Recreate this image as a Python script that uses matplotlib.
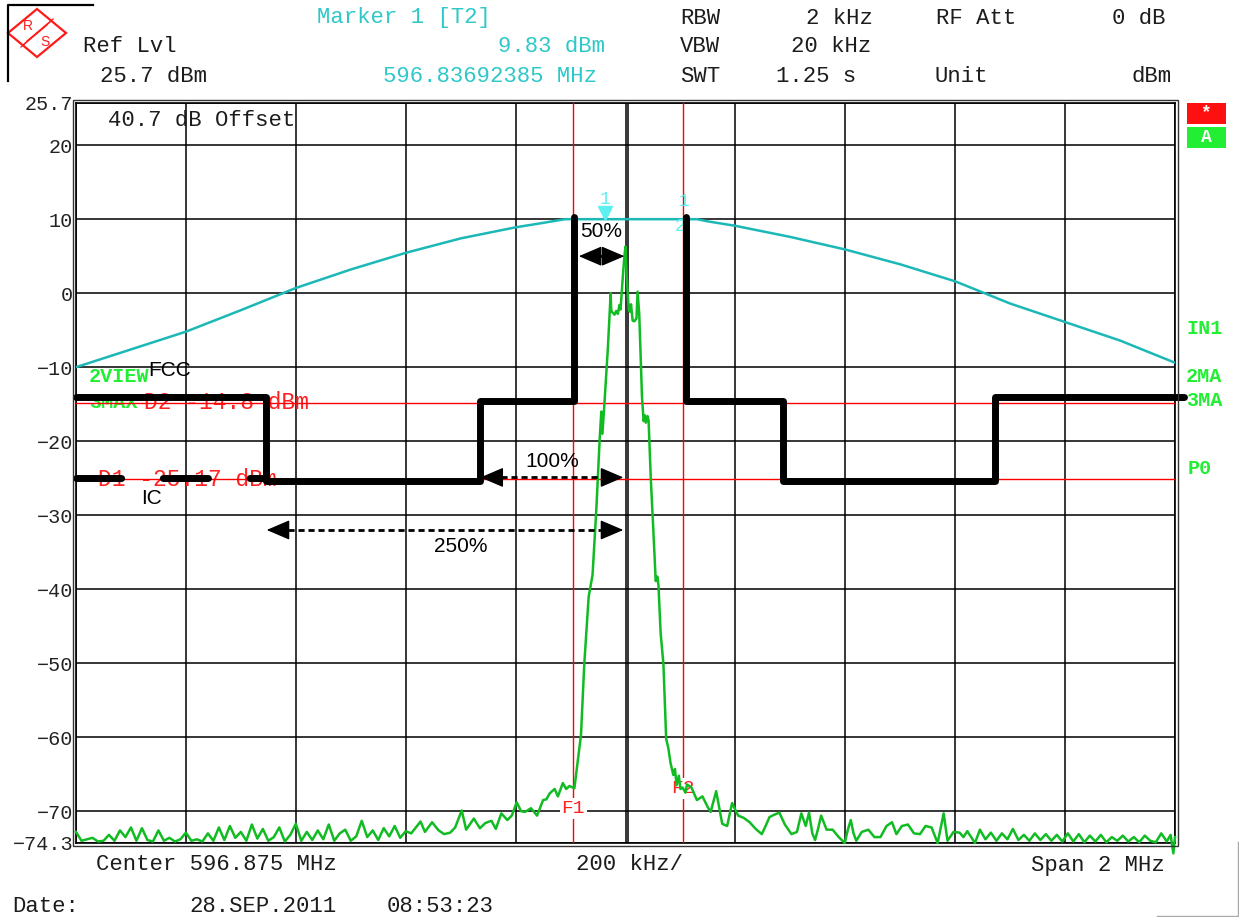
import matplotlib
matplotlib.use('Agg')
import matplotlib.pyplot as plt
from matplotlib.patches import Polygon, Rectangle
from matplotlib.lines import Line2D

# ---------------- data (kHz offset from centre 596.875 MHz, dBm) ----------------
y_ticks = [25.7, 20, 10, 0, -10, -20, -30, -40, -50, -60, -70, -74.3]
y_ticklabels = ['25.7', '20', '10', '0', '−10', '−20', '−30', '−40', '−50', '−60', '−70', '−74.3']
x_ticks = [-1000, -800, -600, -400, -200, 0, 200, 400, 600, 800, 1000]

# cyan trace (T2, max hold of filter shape)
cyan_khz = [-1000, -900, -800, -700, -600, -500, -400, -300, -200, -150, -110,
            130, 150, 200, 300, 400, 500, 600, 700, 800, 900, 1000]
cyan_dbm = [-10.0, -7.6, -5.2, -2.3, 0.7, 3.2, 5.45, 7.4, 8.9, 9.5, 10.0,
            10.0, 9.7, 9.1, 7.6, 5.9, 3.9, 1.6, -1.4, -3.9, -6.4, -9.4]

# green trace: left noise floor, signal, right noise floor  (kHz, dBm)
noise_left = [(-1000, -72.8), (-990, -74.0), (-980, -73.8), (-970, -73.6), (-960, -74.1), (-950, -74.0),
              (-940, -73.2), (-930, -74.0), (-920, -72.6), (-910, -73.5), (-900, -72.2), (-890, -74.0),
              (-880, -72.3), (-870, -73.9), (-860, -74.1), (-850, -72.6), (-840, -74.0), (-830, -73.6),
              (-820, -74.1), (-810, -73.8), (-800, -72.9), (-790, -74.0), (-780, -73.8), (-770, -74.1),
              (-760, -73.0), (-750, -74.0), (-740, -72.2), (-730, -73.9), (-720, -72.0), (-710, -73.6),
              (-700, -72.8), (-690, -74.0), (-680, -71.8), (-670, -73.7), (-660, -72.4), (-650, -74.0),
              (-640, -73.5), (-630, -72.2), (-620, -74.1), (-610, -73.2), (-600, -71.7), (-590, -74.0),
              (-580, -72.8), (-570, -73.9), (-560, -72.6), (-550, -73.8), (-540, -71.8), (-530, -74.0),
              (-520, -73.0), (-510, -72.5), (-500, -74.0), (-490, -73.4), (-480, -71.3), (-470, -73.5),
              (-460, -72.6), (-450, -73.9), (-440, -72.3), (-430, -73.4), (-420, -72.0), (-410, -73.6),
              (-400, -72.7), (-390, -73.0), (-373, -71.4), (-365, -72.8), (-352, -71.5), (-340, -72.6),
              (-330, -73.1), (-319, -72.9), (-310, -72.2), (-298, -69.9), (-290, -72.5), (-276, -71.0),
              (-265, -72.3), (-255, -71.6), (-244, -71.3), (-236, -72.4), (-226, -70.3), (-215, -71.2),
              (-207, -70.6), (-198, -68.8), (-190, -70.0), (-183, -70.1), (-172, -69.6), (-161, -70.6),
              (-150, -68.5), (-144, -68.4), (-138, -67.6), (-129, -67.0), (-123, -68.0), (-114, -66.2),
              (-108, -67.0), (-102, -66.6)]
signal = [(-93, -66.9), (-81, -59.7), (-75, -50.1), (-67, -41.0), (-60, -38.1), (-53, -29.1),
          (-47, -19.7), (-44, -16.0), (-42, -19.0), (-38, -14.5), (-32, -7.3), (-27, 0.0),
          (-26, -2.3), (-24, -2.6), (-20, -2.9), (-17, -2.4), (-14, -2.8), (-11, -1.6), (-9, -2.2),
          (-5, 2.1), (-2, 5.0), (0, 6.3), (2, 2.6), (4, 0.0), (6, -2.3), (8, -2.5), (10, -1.5),
          (13, -3.7), (16, -3.8), (20, -3.4), (22, 0.2), (25, -2.8), (30, -14.0), (33, -17.3),
          (35, -16.5), (37, -17.5), (40, -16.6), (42, -17.2), (46, -25.0), (50, -31.0), (55, -38.9),
          (58, -38.3), (60, -39.5), (64, -46.0), (69, -50.1), (74, -60.2), (78, -61.5), (82, -63.5),
          (87, -65.1), (90, -64.3), (93, -66.5), (97, -65.2), (100, -67.0), (104, -66.8), (109, -67.5),
          (112, -66.4)]
noise_right = [(120, -66.8), (130, -68.5), (140, -68.0), (150, -69.5), (155, -70.1), (165, -67.3),
               (176, -71.7), (185, -72.0), (194, -68.9), (205, -70.6), (215, -70.9), (226, -71.5),
               (237, -72.4), (248, -73.1), (255, -72.0), (262, -70.8), (270, -70.5), (280, -70.2),
               (290, -71.8), (302, -73.1), (312, -72.8), (320, -70.3), (328, -72.0), (334, -70.2),
               (340, -73.0), (345, -73.9), (350, -72.5), (356, -70.6), (366, -72.5), (377, -72.5),
               (388, -73.5), (399, -74.3), (405, -72.4), (410, -71.2), (415, -73.0), (420, -74.0),
               (430, -72.8), (442, -72.5), (453, -73.5), (464, -73.5), (475, -72.0), (485, -71.5),
               (493, -73.1), (503, -72.0), (514, -71.8), (525, -73.0), (536, -73.1), (546, -72.0),
               (557, -72.2), (568, -74.3), (579, -70.3), (586, -74.0), (597, -72.8), (608, -72.9),
               (615, -73.5), (622, -72.7), (636, -74.3), (645, -72.5), (655, -73.8), (665, -72.9),
               (675, -74.0), (685, -73.0), (695, -73.8), (705, -72.4), (715, -73.9), (725, -73.2),
               (735, -74.0), (745, -73.0), (755, -73.9), (765, -73.1), (775, -74.0), (785, -73.2),
               (795, -74.1), (805, -73.0), (815, -74.1), (825, -73.1), (835, -74.2), (845, -73.3),
               (855, -74.1), (865, -73.2), (875, -74.2), (885, -73.5), (895, -74.0), (905, -73.3),
               (915, -74.1), (925, -73.5), (935, -74.2), (945, -73.3), (955, -74.0), (965, -74.2),
               (975, -73.0), (985, -74.1), (992, -73.2), (997, -75.7), (1000, -73.5)]

# emission masks
fcc_left_khz = [-1000, -655, -655, -264, -264, -93, -93]
fcc_left_dbm = [-14.0, -14.0, -25.4, -25.4, -14.6, -14.6, 10.3]
fcc_right_khz = [110, 110, 286, 286, 673, 673, 1017]
fcc_right_dbm = [10.3, -14.6, -14.6, -25.4, -25.4, -14.0, -14.0]
ic_khz = [-1000, -655]
ic_dbm = [-25.0, -25.0]

# display lines / frequency lines
d1_dbm, d2_dbm = -25.17, -14.8
f1_khz, f2_khz = -95, 105
marker1 = (-38, 9.83)

# bandwidth arrows: (start kHz, end kHz, level dBm, label)
arrows = [(-85, -2, 5.0, '50%'), (-264, -4, -24.9, '100%'), (-653, -4, -32.0, '250%')]

# ---------------- figure ----------------
W, H = 1239, 917
fig = plt.figure(figsize=(W / 100, H / 100), dpi=100)
fig.patch.set_facecolor('white')
MONO = ['Liberation Mono', 'DejaVu Sans Mono']
SANS = ['Liberation Sans', 'DejaVu Sans']
TXT = '#1c1c1c'


def fx(x):
    return x / W


def fy(y):
    return 1 - y / H


def ftext(x, y, s, color=TXT, size=16, ha='center', weight='normal', family=MONO, **kw):
    fig.text(fx(x), fy(y), s, color=color, fontsize=size, ha=ha, va='center',
             family=family, fontweight=weight, **kw)


L, R, T, B = 76, 1175, 103, 843
ax = fig.add_axes([fx(L), fy(B), (R - L) / W, (B - T) / H])
ax.set_xlim(-1000, 1000)
ax.set_ylim(-74.3, 25.7)
ax.set_xticks(x_ticks)
ax.set_xticklabels([])
ax.set_yticks(y_ticks)
ax.set_yticklabels(y_ticklabels, family=MONO, fontsize=14.5, color='#222222')
ax.tick_params(length=0, pad=2)
ax.grid(True, color='black', lw=1.1)
ax.set_axisbelow(True)
for s in ax.spines.values():
    s.set_linewidth(1.2)
# double frame
fig.add_artist(Rectangle((fx(L - 3), fy(B + 3)), (R - L + 6) / W, (B - T + 6) / H,
                         fill=False, lw=1.0, ec='#333333', transform=fig.transFigure))
ax.axvline(4.9, color='black', lw=1.1, zorder=1)

# red display lines
ax.axhline(d1_dbm, color='#ff0000', lw=1.0, zorder=3)
ax.axhline(d2_dbm, color='#ff0000', lw=1.0, zorder=3)
ax.axvline(f1_khz, color='#ff0000', lw=1.0, zorder=3)
ax.axvline(f2_khz, color='#ff0000', lw=1.0, zorder=3)

# texts inside plot
ax.text(0.029, 0.976, '40.7 dB Offset', transform=ax.transAxes, family=MONO, fontsize=16,
        color=TXT, va='center', ha='left', zorder=2)
ax.text(-977, d2_dbm + 3.5, '2VIEW', family=MONO, fontsize=14.5, fontweight='bold',
        color='#22ee33', va='center', ha='left', zorder=3)
ax.text(-977, d2_dbm, '3MAX', family=MONO, fontsize=14.5, fontweight='bold',
        color='#22ee33', va='center', ha='left', zorder=2)
ax.text(-876, d2_dbm, 'D2 -14.8 dBm', family=MONO, fontsize=16.5, color='#ff2020',
        va='center', ha='left', zorder=2)
ax.text(-960, d1_dbm, 'D1 -25.17 dBm', family=MONO, fontsize=16.5, color='#ff2020',
        va='center', ha='left', zorder=2)
ax.text(f1_khz, -69.6, 'F1', family=MONO, fontsize=14, color='#ff2020', ha='center', va='center',
        zorder=4, bbox=dict(boxstyle='square,pad=0.1', fc='white', ec='none'))
ax.text(f2_khz, -66.9, 'F2', family=MONO, fontsize=14, color='#ff2020', ha='center', va='center',
        zorder=4, bbox=dict(boxstyle='square,pad=0.1', fc='white', ec='none'))

# cyan trace
ax.plot(cyan_khz, cyan_dbm, color='#1cb8b8', lw=1.8, zorder=5)

# green trace
gk = [p[0] for p in noise_left + signal + noise_right]
gd = [p[1] for p in noise_left + signal + noise_right]
ax.plot(gk, gd, color='#11bb22', lw=1.8, zorder=6, clip_on=False)

# masks
ax.plot(fcc_left_khz, fcc_left_dbm, color='black', lw=5, zorder=7,
        solid_joinstyle='round', solid_capstyle='round', clip_on=False)
ax.plot(fcc_right_khz, fcc_right_dbm, color='black', lw=5, zorder=7,
        solid_joinstyle='round', solid_capstyle='round', clip_on=False)
ax.plot(ic_khz, ic_dbm, color='black', lw=5, zorder=7, dash_capstyle='round',
        linestyle=(0, (6.5, 6.0)), clip_on=False)
ax.text(-830, -10.4, 'FCC', family=SANS, fontsize=15, color='black', ha='center', va='center', zorder=8)
ax.text(-863, -27.7, 'IC', family=SANS, fontsize=15, color='black', ha='center', va='center', zorder=8)

# arrows: dashed shaft plus solid filled heads
HEAD = 38  # kHz, length of one arrow head along the axis
label_pos = {'50%': (-44, 8.3), '100%': (-133, -22.7), '250%': (-300, -34.2)}
for x0, x1, yy, lab in arrows:
    if x1 - x0 > 2 * HEAD:
        ax.plot([x0 + HEAD, x1 - HEAD], [yy, yy], color='black', lw=2, ls=(0, (2.2, 1.4)), zorder=8)
    for tip, base in ((x0, x0 + HEAD), (x1, x1 - HEAD)):
        ax.annotate('', xy=(tip, yy), xytext=(base, yy),
                    arrowprops=dict(arrowstyle='-|>,head_length=1.45,head_width=0.62', mutation_scale=10,
                                    lw=1, color='black', shrinkA=0, shrinkB=0),
                    zorder=8)
    ax.text(*label_pos[lab], lab, family=SANS, fontsize=15, color='black', ha='center', va='center',
            zorder=8)

# markers
ax.plot([marker1[0]], [10.9], marker='v', ms=10, color='#5ef0f0', mec='#5ef0f0', zorder=9, clip_on=False)
ax.text(marker1[0], 12.6, '1', family=MONO, fontsize=13, color='#5ef0f0', ha='center', va='center', zorder=9)
ax.text(107, 12.4, '1', family=MONO, fontsize=13, color='#5ef0f0', ha='center', va='center', zorder=9)
ax.text(100, 9.0, '2', family=MONO, fontsize=13, color='#5ef0f0', ha='center', va='center', zorder=6)

# ---------------- header ----------------
CY = '#2ec8c8'
ftext(404, 18, 'Marker 1 [T2]', color=CY)
ftext(700, 18, 'RBW')
ftext(839, 18, '2 kHz')
ftext(976, 18, 'RF Att')
ftext(1165, 18, '0 dB', ha='right')
ftext(130, 47, 'Ref Lvl')
ftext(551, 47, '9.83 dBm', color=CY)
ftext(700, 47, 'VBW')
ftext(831, 47, '20 kHz')
ftext(154, 76, '25.7 dBm')
ftext(490, 76, '596.83692385 MHz', color=CY)
ftext(700, 76, 'SWT')
ftext(816, 76, '1.25 s')
ftext(961, 76, 'Unit')
ftext(1152, 76, 'dBm')

# footer
ftext(216, 865, 'Center 596.875 MHz')
ftext(629, 865, '200 kHz/')
ftext(1098, 865, 'Span 2 MHz')
ftext(46, 906, 'Date:')
ftext(263, 906, '28.SEP.2011')
ftext(440, 906, '08:53:23')

# right side status boxes and labels
fig.add_artist(Rectangle((fx(1187), fy(124)), 39 / W, 21 / H, fc='#ff1010', ec='none', transform=fig.transFigure))
fig.add_artist(Rectangle((fx(1187), fy(148)), 39 / W, 21 / H, fc='#22ee33', ec='none', transform=fig.transFigure))
ftext(1206, 113, '*', color='white', size=13, weight='bold')
ftext(1206, 137, 'A', color='white', size=13, weight='bold')
GR = '#22ee33'
ftext(1186, 329, 'IN1', color=GR, size=14.5, weight='bold', ha='left')
ftext(1186, 376, '2MA', color=GR, size=14.5, weight='bold', ha='left')
ftext(1186, 401, '3MA', color=GR, size=14.5, weight='bold', ha='left')
ftext(1188, 468, 'P0', color=GR, size=14.5, weight='bold', ha='left')

# corner frame lines
fig.add_artist(Line2D([fx(8), fx(8), fx(93)], [fy(81), fy(5), fy(5)], color='black', lw=1.6,
                      transform=fig.transFigure))
fig.add_artist(Line2D([fx(1238), fx(1238)], [fy(842), fy(916)], color='#aaaaaa', lw=1.0,
                      transform=fig.transFigure))
fig.add_artist(Line2D([fx(1157), fx(1238)], [fy(916), fy(916)], color='#aaaaaa', lw=1.0,
                      transform=fig.transFigure))

# R&S logo
diamond = [(fx(8), fy(33)), (fx(37), fy(9)), (fx(66), fy(33)), (fx(37), fy(57))]
fig.add_artist(Polygon(diamond, closed=True, fill=False, ec='#ff1a1a', lw=1.6, transform=fig.transFigure))
ftext(28, 26, 'R', color='#ff1a1a', size=10, family=SANS)
ftext(45, 42, 'S', color='#ff1a1a', size=10, family=SANS)
for d in (-3, 0, 3):
    fig.add_artist(Line2D([fx(24 + d), fx(50 + d)], [fy(44 - d), fy(22 - d)], color='#ff1a1a', lw=0.9,
                          transform=fig.transFigure))

fig.savefig('out.png', dpi=100, facecolor='white')
